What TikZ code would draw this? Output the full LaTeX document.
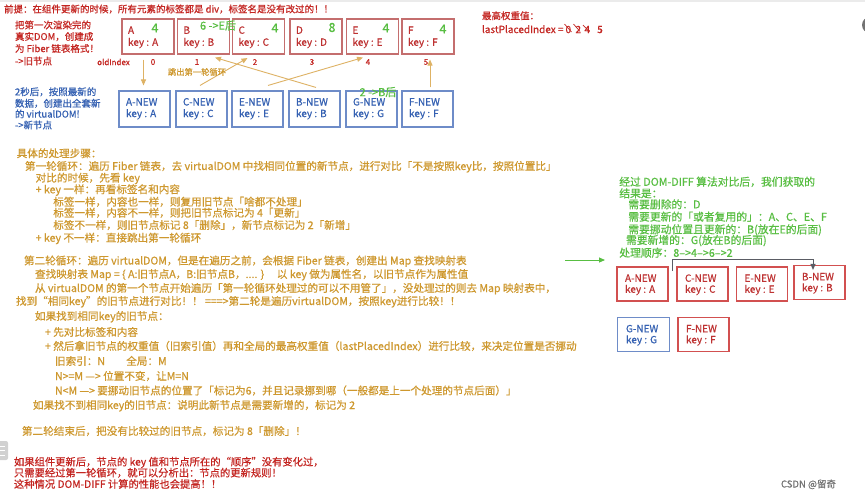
\documentclass[tikz,border=0pt]{standalone}
\usepackage{fontspec}
\setmainfont{Noto Sans CJK SC}[FakeBold=0.6]
\usetikzlibrary{arrows.meta}
\definecolor{redtxt}{RGB}{196,38,34}
\definecolor{goldtxt}{RGB}{206,152,46}
\definecolor{greentxt}{RGB}{88,190,66}
\definecolor{bluetxt}{RGB}{52,96,178}
\definecolor{blueborder}{RGB}{110,140,200}
\definecolor{oldborder}{RGB}{196,110,110}
\definecolor{oldtxt}{RGB}{190,50,50}
\definecolor{rborder}{RGB}{210,80,80}
\definecolor{arrowgold}{RGB}{222,178,100}
\definecolor{arrowgray}{RGB}{90,92,100}
\newcommand{\oldbx}[4]{%
  \node[oldbox] (#1) at (#2,36.5) {};
  \node[boxt, text=oldtxt] (#1a) at (#2-20,33.8) {#3};
  \node[boxt, text=oldtxt] (#1b) at (#2-20,45.8) {key : #4};
}
\newcommand{\nwbx}[3]{%
  \node[newbox] (#1) at (#2,109) {};
  \node[boxt, text=bluetxt] (#1a) at (#2-18.5,105.5) {#3-NEW};
  \node[boxt, text=bluetxt] (#1b) at (#2-18.5,117.1) {key : #3};
}
\newcommand{\rbx}[6]{%
  \node[#5] (#1) at (#2,#3) {};
  \node[boxt, text=#6] (#1a) at (#2-17.5,#3-2.2) {#4-NEW};
  \node[boxt, text=#6] (#1b) at (#2-17.5,#3+8.8) {key : #4};
}
\begin{document}
\begin{tikzpicture}[x=1pt,y=-1pt,
  txt/.style={anchor=base west, inner sep=0pt, outer sep=0pt},
  redsm/.style={txt, text=redtxt, font=\fontsize{9.5}{11}\selectfont},
  redbig/.style={txt, text=redtxt, font=\fontsize{10.3}{12}\selectfont},
  bluet/.style={txt, text=bluetxt, font=\fontsize{9.5}{11}\selectfont},
  gold/.style={txt, text=goldtxt, font=\fontsize{10.6}{12}\selectfont},
  greent/.style={txt, text=greentxt, font=\fontsize{10.8}{12}\selectfont},
  boxt/.style={txt, font=\fontsize{10}{12}\selectfont},
  gnum/.style={inner sep=0pt, text=greentxt, font=\fontsize{12.5}{12}\selectfont},
  idx/.style={inner sep=0pt, text=redtxt, font=\fontsize{8}{9}\selectfont},
  oldbox/.style={draw=oldborder, line width=1.1pt, minimum width=52pt, minimum height=35pt, inner sep=0pt},
  newbox/.style={draw=blueborder, line width=1.1pt, minimum width=51pt, minimum height=36pt, inner sep=0pt},
  rredbox/.style={draw=rborder, line width=1.1pt, minimum width=51pt, minimum height=34pt, inner sep=0pt},
  rbluebox/.style={draw=blueborder, line width=1.1pt, minimum width=52pt, minimum height=34pt, inner sep=0pt},
  garrow/.style={draw=arrowgold, line width=0.9pt, -{Triangle[length=6pt,width=5pt]}},
  grayarrow/.style={draw=arrowgray, line width=0.9pt, -{Triangle[length=6pt,width=5pt]}},
  grnarrow/.style={draw=greentxt, line width=0.9pt, -{Triangle[length=6pt,width=5pt]}}
]
\useasboundingbox (0,0) rectangle (865,499);
\clip (0,0) rectangle (865,499);
\fill[white] (0,0) rectangle (865,499);
\fill[black!8] (0,0) rectangle (865,2);
\fill[black!55] (870,25) circle (8);
\fill[black!18, rounded corners=2pt] (-4,441) rectangle (8,460);
\foreach \yy in {446,450.5,455} \draw[white, line width=1pt] (0,\yy) -- (5,\yy);

% top texts
\node[redsm] (premise) at (4,12.6) {前提：在组件更新的时候，所有元素的标签都是 div，标签名是没有改过的！！};
\node[redsm] (l1) at (15,28.6) {把第一次渲染完的};
\node[redsm] (l2) at (15,40.1) {真实DOM，创建成};
\node[redsm] (l3) at (15,52.1) {为 Fiber 链表格式！};
\node[redsm] (l4) at (15,64.6) {->旧节点};

\node[bluet] (b1) at (15,95.3) {2秒后，按照最新的};
\node[bluet] (b2) at (15,106.9) {数据，创建出全套新};
\node[bluet] (b3) at (15,117.6) {的 virtualDOM!};
\node[bluet] (b4) at (15,128.6) {->新节点};

% old fiber boxes
\oldbx{oA}{148}{A}{A}
\oldbx{oB}{203.5}{B}{B}
\oldbx{oC}{258.5}{C}{C}
\oldbx{oD}{316}{D}{D}
\oldbx{oE}{372.5}{E}{E}
\oldbx{oF}{428}{F}{F}
\node[gnum] (nA4) at (155,28) {4};
\node[gnum] (nC4) at (275,28) {4};
\node[gnum] (nD8) at (332,27.5) {8};
\node[gnum] (nE4) at (386,28) {4};
\node[gnum] (nF4) at (443,29) {4};
\node[inner sep=0pt, text=greentxt, font=\fontsize{11}{12}\selectfont] (bnote) at (218,25.5) {6 ->E后};

% old index row
\node[idx, anchor=west] (oi) at (97,62) {oldIndex};
\node[idx] (i0) at (153,62) {0};
\node[idx] (i1) at (197,62) {1};
\node[idx] (i2) at (255,62) {2};
\node[idx] (i3) at (312,62) {3};
\node[idx] (i4) at (368,62) {4};
\node[idx] (i5) at (426,62) {5};

% new virtual DOM boxes
\nwbx{nA}{144.5}{A}
\nwbx{nC}{201.5}{C}
\nwbx{nE}{257.5}{E}
\nwbx{nB}{314.5}{B}
\nwbx{nG}{371.5}{G}
\nwbx{nF}{427.5}{F}
\node[inner sep=0pt, text=greentxt, font=\fontsize{11}{12}\selectfont] (gnote) at (378,92) {2 ->B后};

% arrows
\draw[garrow] ([xshift=-4.5pt,yshift=-5pt]oA.south) -- ([xshift=-1pt,yshift=5pt]nA.north);
\draw[garrow] ([xshift=-1.5pt,yshift=5pt]nC.north) -- ([xshift=-11pt,yshift=-3.5pt]oC.south);
\draw[garrow] ([xshift=1.5pt,yshift=3pt]nB.north) -- ([xshift=11.5pt,yshift=-3pt]oB.south);
\draw[garrow] ([xshift=10.5pt,yshift=5pt]nE.north) -- ([xshift=-9.5pt,yshift=-3pt]oE.south);
\draw[garrow] ([xshift=2.5pt,yshift=3pt]nF.north) -- ([xshift=2pt,yshift=-5pt]oF.south);
\node[inner sep=0pt, text=goldtxt, font=\fontsize{8.3}{9}\selectfont] (jump) at (197,72) {跳出第一轮循环};

% lastPlacedIndex
\node[redsm] (maxw) at (482,19.3) {最高权重值：};
\node[txt, text=redtxt, font=\fontsize{10}{12}\selectfont] (lpi) at (482,33.1) {lastPlacedIndex =};
\node[anchor=base, inner sep=0pt, text=redtxt, font=\fontsize{10}{12}\selectfont] (d0) at (568.3,33.1) {0};
\node[anchor=base, inner sep=0pt, text=redtxt, font=\fontsize{10}{12}\selectfont] (d2) at (578.3,33.1) {2};
\node[anchor=base, inner sep=0pt, text=redtxt, font=\fontsize{10}{12}\selectfont] (d4) at (587.3,33.1) {4};
\node[anchor=base, inner sep=0pt, text=redtxt, font=\fontsize{10}{12}\selectfont] (d5) at (600,33.1) {5};
\draw[redtxt, line width=0.7pt] (564.5,24) -- (571.5,32);
\draw[redtxt, line width=0.7pt] (573.5,24) -- (580,31.5);
\draw[redtxt, line width=0.7pt] (583,25) -- (589.5,32);

% processing steps
\node[gold] (g1) at (16.7,157.3) {具体的处理步骤：};
\node[gold] (g2) at (25,170) {第一轮循环：遍历 Fiber 链表，去 virtualDOM 中找相同位置的新节点，进行对比「不是按照key比，按照位置比」};
\node[gold] (g3) at (35.7,181.7) {对比的时候，先看 key};
\node[gold] (g4) at (35.7,193.3) {+ key 一样：再看标签名和内容};
\node[gold] (g5) at (53.3,205.7) {标签一样，内容也一样，则复用旧节点「啥都不处理」};
\node[gold] (g6) at (53.3,216.7) {标签一样，内容不一样，则把旧节点标记为 4「更新」};
\node[gold] (g7) at (53.3,229) {标签不一样，则旧节点标记 8「删除」，新节点标记为 2「新增」};
\node[gold] (g8) at (35.7,241.7) {+ key 不一样：直接跳出第一轮循环};
\node[gold] (g9) at (24,264.5) {第二轮循环：遍历 virtualDOM，但是在遍历之前，会根据 Fiber 链表，创建出 Map 查找映射表};
\node[gold] (g10) at (35,278) {查找映射表 Map = \{ A:旧节点A，B:旧节点B，.... \}\hspace{1.2em}以 key 做为属性名，以旧节点作为属性值};
\node[gold] (g11) at (35,292) {从 virtualDOM 的第一个节点开始遍历「第一轮循环处理过的可以不用管了」，没处理过的则去 Map 映射表中，};
\node[gold] (g12) at (16,305) {找到“相同key”的旧节点进行对比！！ ===>第二轮是遍历virtualDOM，按照key进行比较！！};
\node[gold] (g13) at (35,320) {如果找到相同key的旧节点：};
\node[gold] (g14) at (45,336) {+ 先对比标签和内容};
\node[gold] (g15) at (45,350) {+ 然后拿旧节点的权重值（旧索引值）再和全局的最高权重值（lastPlacedIndex）进行比较，来决定位置是否挪动};
\node[gold] (g16) at (55,365) {旧索引：N\hspace{2em}全局：M};
\node[gold] (g17) at (55,380) {N>=M —> 位置不变，让M=N};
\node[gold] (g18) at (55,394.5) {N<M —> 要挪动旧节点的位置了「标记为6，并且记录挪到哪（一般都是上一个处理的节点后面）」};
\node[gold] (g19) at (33,409) {如果找不到相同key的旧节点：说明此新节点是需要新增的，标记为 2};
\node[gold] (g20) at (22,435) {第二轮结束后，把没有比较过的旧节点，标记为 8「删除」！};

% bottom conclusion
\node[redbig] (c1) at (14,465.6) {如果组件更新后，节点的 key 值和节点所在的“顺序”没有变化过，};
\node[redbig] (c2) at (14,476.6) {只需要经过第一轮循环，就可以分析出：节点的更新规则！};
\node[redbig] (c3) at (14,487.9) {这种情况 DOM-DIFF 计算的性能也会提高！！};

% result block
\node[greent] (r1) at (619.3,185.8) {经过 DOM-DIFF 算法对比后，我们获取的};
\node[greent] (r2) at (619.3,197.4) {结果是：};
\node[greent] (r3) at (628.3,208.4) {需要删除的：D};
\node[greent] (r4) at (628.3,220.8) {需要更新的「或者复用的」：A、C、E、F};
\node[greent] (r5) at (628.3,233.4) {需要挪动位置且更新的：B(放在E的后面)};
\node[greent] (r6) at (626,244.1) {需要新增的：G(放在B的后面)};
\node[greent] (r7) at (619.3,256.8) {处理顺序：8–>4–>6–>2};

\coordinate (ga) at (565,260);
\coordinate (gb) at (605,260);
\draw[grnarrow] (ga) -- (gb);

\rbx{rA}{642.5}{284}{A}{rredbox}{oldtxt}
\rbx{rC}{702.5}{284}{C}{rredbox}{oldtxt}
\rbx{rE}{762}{284}{E}{rredbox}{oldtxt}
\rbx{rB}{819.5}{282.5}{B}{rredbox}{oldtxt}
\rbx{rG}{643.5}{334.5}{G}{rbluebox}{bluetxt}
\rbx{rF}{703.5}{334.5}{F}{rredbox}{oldtxt}

\coordinate (gs) at (672,271);
\draw[grayarrow] (gs) -- ++(0,-12) -| ([xshift=-6.5pt,yshift=-5pt]rB.north);

\node[txt, text=black!55, font=\fontsize{9.5}{10}\selectfont] (wm) at (781,487.5) {CSDN @留奇};
\end{tikzpicture}
\end{document}
